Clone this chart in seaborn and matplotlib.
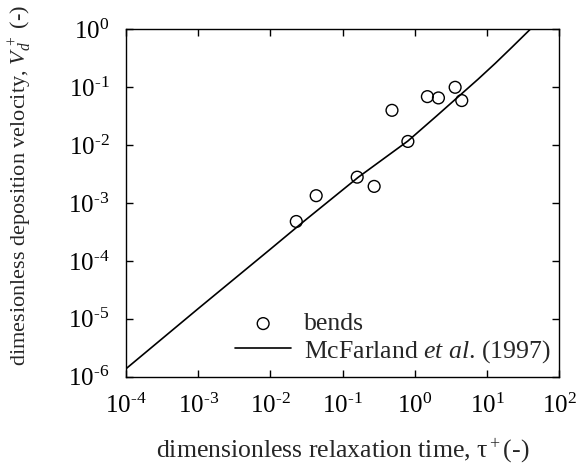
import numpy as np
import pandas as pd
import matplotlib
matplotlib.use("Agg")
import matplotlib.pyplot as plt
import matplotlib.ticker as mticker
import seaborn as sns

# bends data
tau_bends = [0.0228, 0.043, 0.159, 0.273, 0.482, 0.80, 1.49, 2.12, 3.61, 4.46]
vd_bends = [4.8e-4, 1.34e-3, 2.8e-3, 1.94e-3, 0.040, 0.0116, 0.069, 0.0655, 0.10, 0.059]

# McFarland et al. (1997) curve
tau_mcf = [1e-4, 1e-3, 1e-2, 0.03, 0.165, 0.8, 2.0, 4.23, 7.5, 13.0, 22.0, 39.4]
vd_mcf = [1.37e-6, 1.5e-5, 1.6e-4, 5.0e-4, 2.8e-3, 0.0118, 0.032, 0.0733, 0.138, 0.26, 0.49, 1.0]

x_ticks = [1e-4, 1e-3, 1e-2, 1e-1, 1e0, 1e1, 1e2]
x_labels = ["10$^{\\text{-4}}$", "10$^{\\text{-3}}$", "10$^{\\text{-2}}$", "10$^{\\text{-1}}$",
            "10$^{\\text{0}}$", "10$^{\\text{1}}$", "10$^{\\text{2}}$"]
y_ticks = [1e-6, 1e-5, 1e-4, 1e-3, 1e-2, 1e-1, 1e0]
y_labels = ["10$^{\\text{-6}}$", "10$^{\\text{-5}}$", "10$^{\\text{-4}}$", "10$^{\\text{-3}}$",
            "10$^{\\text{-2}}$", "10$^{\\text{-1}}$", "10$^{\\text{0}}$"]

sns.set_theme(style="ticks")
plt.rcParams["font.family"] = ["Liberation Serif", "DejaVu Serif"]
plt.rcParams["mathtext.fontset"] = "custom"
plt.rcParams["mathtext.rm"] = "Liberation Serif"
plt.rcParams["mathtext.it"] = "Liberation Serif:italic"
plt.rcParams["mathtext.bf"] = "Liberation Serif:bold"
plt.rcParams["axes.unicode_minus"] = False

fs = 18.5

fig = plt.figure(figsize=(5.79, 4.67), dpi=100)
ax = fig.add_axes([0.2176, 0.1934, 0.966 - 0.2176, 0.937 - 0.1934])

df_b = pd.DataFrame({"tau": tau_bends, "vd": vd_bends})
df_m = pd.DataFrame({"tau": tau_mcf, "vd": vd_mcf})

sns.scatterplot(data=df_b, x="tau", y="vd", ax=ax, marker="o", s=72,
                facecolor="none", edgecolor="black", linewidth=1.0,
                label="bends", zorder=3)
sns.lineplot(data=df_m, x="tau", y="vd", ax=ax, color="black", linewidth=1.2,
             label="McFarland $\\it{et\\ al}$. (1997)", sort=False)

ax.set_xscale("log")
ax.set_yscale("log")
ax.set_xlim(1e-4, 1e2)
ax.set_ylim(1e-6, 1e0)

ax.xaxis.set_major_locator(mticker.FixedLocator(x_ticks))
ax.xaxis.set_major_formatter(mticker.FixedFormatter(x_labels))
ax.yaxis.set_major_locator(mticker.FixedLocator(y_ticks))
ax.yaxis.set_major_formatter(mticker.FixedFormatter(y_labels))
ax.xaxis.set_minor_locator(mticker.NullLocator())
ax.yaxis.set_minor_locator(mticker.NullLocator())

ax.tick_params(which="major", direction="in", length=5, width=1,
               top=True, right=True, labelsize=18, colors="black")
ax.tick_params(axis="x", pad=12)
ax.tick_params(axis="y", pad=12)
for sp in ax.spines.values():
    sp.set_linewidth(1.0)
    sp.set_color("black")

ax.set_xlabel("dimensionless relaxation time, τ$^+$(-)", fontsize=fs)
ax.xaxis.set_label_coords(0.5, -0.172)
ax.set_ylabel("dimesionless deposition velocity, $V_d^{\\,+}$ (-)", fontsize=16)
ax.yaxis.set_label_coords(-0.215, 0.55)

ax.legend(loc="lower right", bbox_to_anchor=(1.016, -0.01), frameon=False,
          fontsize=fs, handlelength=2.2, handletextpad=0.5, labelspacing=0.1,
          borderaxespad=0.2)

fig.savefig("out.png", dpi=100)
